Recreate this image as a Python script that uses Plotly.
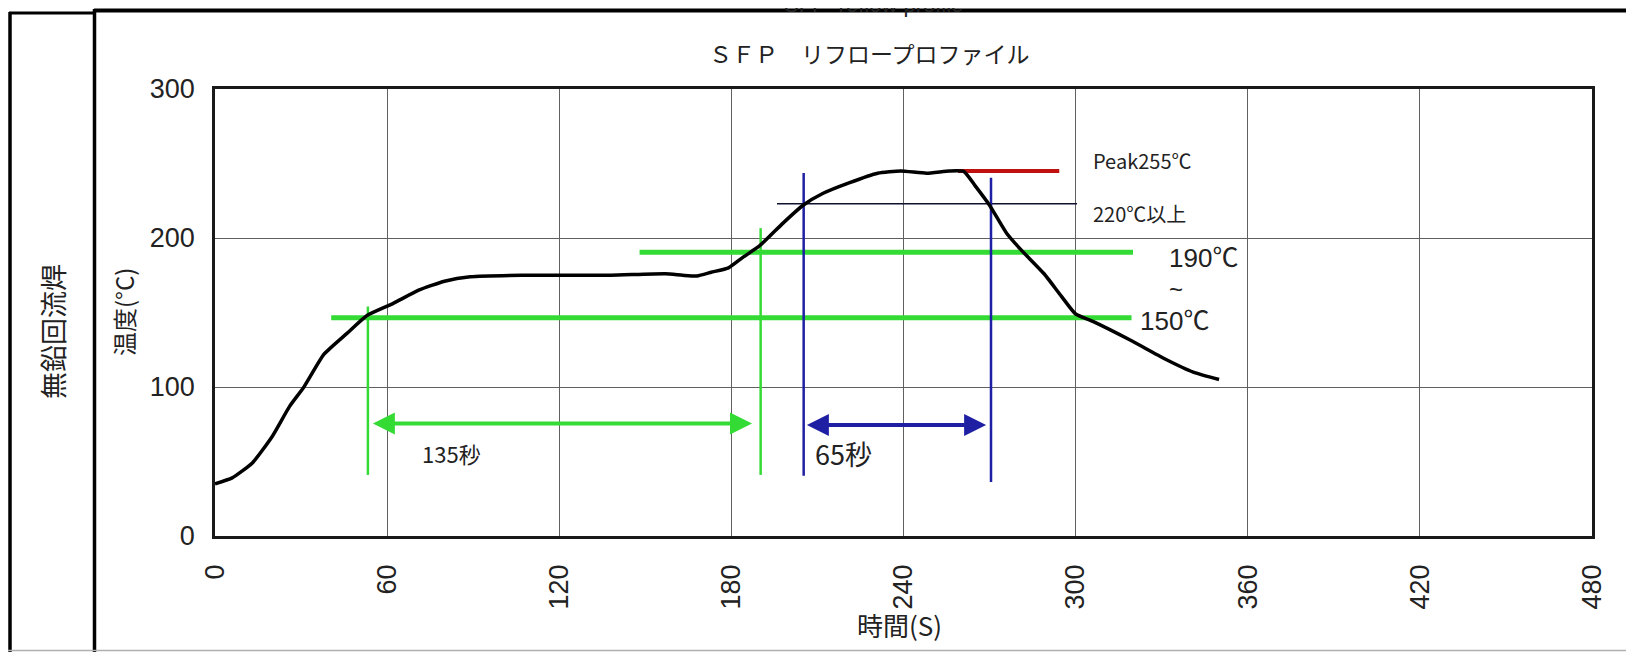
import plotly.graph_objects as go

# ---- data ----
time_s = [0, 6, 13, 20, 26, 31, 38, 46, 53, 62, 71, 80, 89, 107, 119, 138, 157, 163, 168, 173,
          179, 184, 190, 198, 205, 212, 221, 231, 239, 248, 256, 261, 265, 270, 276, 281, 289,
          295, 300, 306, 319, 331, 341, 350]
temp_c = [35, 39, 49, 67, 87, 100, 122, 136, 148, 156, 165, 171, 174, 175, 175, 175, 176, 175, 174.5, 177,
          180, 187, 195, 210, 222, 230, 237, 243.5, 245, 243.5, 245, 244.7, 235, 222, 203, 192, 176,
          161, 149, 144, 131.5, 119, 110, 105]

x_ticks = [0, 60, 120, 180, 240, 300, 360, 420, 480]
y_ticks = [0, 100, 200, 300]

# reference lines (time range, temperature)
green_150_t = [40.5, 319.5]
green_150_T = 146.5
green_190_t = [148, 320]
green_190_T = 190.5
black_220_t = [195.9, 300.5]
black_220_T = 223
red_peak_t = [259, 294.3]
red_peak_T = 245
green_v_t = [53.3, 190.2]
green_v_T = [[154, 41], [206.6, 41]]
blue_v_t = [205.2, 270.5]
blue_v_T = [[243.6, 40.5], [240.4, 36.2]]
green_arrow = [54.5, 187.2, 75.5]
blue_arrow = [205.8, 268.8, 74.5]

# page geometry (page offset of 8px from the default body margin)
OFF = 8
PAGE_W, PAGE_H = 1634, 652
W, H = PAGE_W - OFF, PAGE_H - OFF
PL, PR, PT, PB = 215, 1592, 89, 536          # plot area in page pixels
PW, PH = PR - PL, PB - PT


def px(x):
    return (x - PL) / PW


def py(y):
    return (PB - y) / PH


fig = go.Figure()

GREEN = "#35db35"
BLUE = "#1f1fa3"
RED = "#c01010"


def seg(xs, ys, color, width):
    fig.add_trace(go.Scatter(x=xs, y=ys, mode="lines", line=dict(color=color, width=width),
                             showlegend=False, hoverinfo="skip"))


seg(green_150_t, [green_150_T] * 2, GREEN, 5)
seg(green_190_t, [green_190_T] * 2, GREEN, 5)
for t, tt in zip(green_v_t, green_v_T):
    seg([t, t], tt, GREEN, 2.5)
seg(black_220_t, [black_220_T] * 2, "#101030", 1.5)
seg(red_peak_t, [red_peak_T] * 2, RED, 4)
for t, tt in zip(blue_v_t, blue_v_T):
    seg([t, t], tt, BLUE, 2.5)

fig.add_trace(go.Scatter(x=time_s, y=temp_c, mode="lines",
                         line=dict(color="black", width=3.5, shape="spline", smoothing=0.5),
                         showlegend=False, hoverinfo="skip"))

JP = "Noto Sans CJK JP"
AR = "Liberation Sans, Arial, Noto Sans CJK JP"

ann = []
for (a0, a1, yy), col in [(green_arrow, GREEN), (blue_arrow, BLUE)]:
    ann.append(dict(x=a1, y=yy, ax=a0, ay=yy, xref="x", yref="y", axref="x", ayref="y",
                    showarrow=True, arrowhead=2, arrowside="end+start", arrowsize=1.1,
                    arrowwidth=4, arrowcolor=col, text=""))


def txt(text, x, y, size, family=JP, xanchor="left", xref="x", yref="y", angle=0, color="#222"):
    ann.append(dict(text=text, x=x, y=y, xref=xref, yref=yref, showarrow=False,
                    xanchor=xanchor, yanchor="middle", textangle=angle,
                    font=dict(family=family, size=size, color=color)))


txt("135秒", 71.5, 56, 22)
txt("65秒", 208.5, 55.5, 27)
txt("Peak255℃", 305.4, 252.2, 20)
txt("220℃以上", 305.4, 216.2, 20)
txt("190℃", 331.9, 186.6, 26, family=AR)
txt("~", 335, 165.3, 24, family=AR, xanchor="center")
txt("150℃", 321.9, 144.3, 26, family=AR)

txt("ＳＦＰ　リフロープロファイル", px(869), py(52.7), 23, xanchor="center", xref="paper", yref="paper")
txt("SFP  reflow profile", px(873), py(4), 22, family=AR, xanchor="center", xref="paper", yref="paper")
txt("時間(S)", px(899), py(624), 26, xanchor="center", xref="paper", yref="paper")
txt("温度(°C)", px(123), py(312), 24, xanchor="center", xref="paper", yref="paper", angle=-90)
txt("無鉛回流焊", px(52), py(332), 27, xanchor="center", xref="paper", yref="paper", angle=-90)

shapes = [
    dict(type="line", xref="paper", yref="paper", x0=px(94), x1=px(PAGE_W + 5), y0=py(10.5), y1=py(10.5),
         line=dict(color="black", width=4), layer="below"),
    dict(type="line", xref="paper", yref="paper", x0=px(9), x1=px(94), y0=py(13), y1=py(13),
         line=dict(color="black", width=3)),
    dict(type="line", xref="paper", yref="paper", x0=px(10), x1=px(10), y0=py(12), y1=py(PAGE_H + 5),
         line=dict(color="black", width=3.5)),
    dict(type="line", xref="paper", yref="paper", x0=px(94.5), x1=px(94.5), y0=py(9), y1=py(PAGE_H + 5),
         line=dict(color="black", width=3.5)),
    dict(type="line", xref="paper", yref="paper", x0=px(0), x1=px(PAGE_W), y0=py(650.5), y1=py(650.5),
         line=dict(color="#b0b0b0", width=1.5)),
]

fig.update_layout(
    width=W, height=H,
    margin=dict(l=PL - OFF, r=W - (PR - OFF), t=PT - OFF, b=H - (PB - OFF), pad=0),
    paper_bgcolor="white", plot_bgcolor="white",
    annotations=ann, shapes=shapes,
    showlegend=False,
)
fig.update_xaxes(range=[0, 480], tickvals=x_ticks, ticktext=[str(v) for v in x_ticks],
                 tickangle=-90, showgrid=True, gridcolor="#606060", gridwidth=1,
                 showline=True, linecolor="#1a1a1a", linewidth=2.5, mirror=True,
                 ticks="", ticklabelstandoff=15, zeroline=False, automargin=False,
                 tickfont=dict(family=AR, size=27, color="#222"))
fig.update_yaxes(range=[0, 300], tickvals=y_ticks, ticktext=[str(v) for v in y_ticks],
                 showgrid=True, gridcolor="#606060", gridwidth=1,
                 showline=True, linecolor="#1a1a1a", linewidth=2.5, mirror=True,
                 ticks="", ticklabelstandoff=12, zeroline=False, automargin=False,
                 tickfont=dict(family=AR, size=27, color="#222"))

fig.write_html("out.html")
